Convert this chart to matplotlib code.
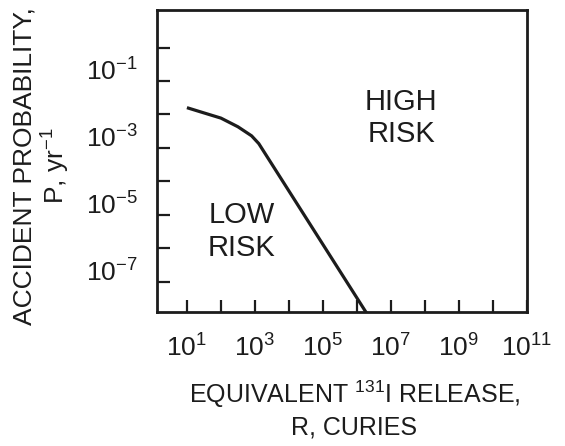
import math
import matplotlib
matplotlib.use("Agg")
import matplotlib.pyplot as plt
from matplotlib.ticker import FixedLocator, NullLocator, FuncFormatter

# boundary between low- and high-risk regions
release_ci = [10, 25, 100, 316, 800, 1.3e3, 2e6]
prob_per_yr = [1.6e-2, 1.2e-2, 7.8e-3, 4.3e-3, 2.3e-3, 1.35e-3, 1.1e-8]

x_ticks = [10.0 ** k for k in range(1, 12)]
x_labeled = [1, 3, 5, 7, 9, 11]
y_ticks = [10.0 ** -k for k in range(0, 8)]
y_labeled = [-1, -3, -5, -7]

ink = "#1c1c1c"
plt.rcParams["font.family"] = ["Liberation Sans", "DejaVu Sans"]
plt.rcParams["font.stretch"] = "condensed"

fig = plt.figure(figsize=(5.65, 4.46), dpi=100)
ax = fig.add_axes([0.2779, 0.3004, 0.6549, 0.6771])

ax.plot(release_ci, prob_per_yr, color=ink, lw=2.3, solid_capstyle="butt")
ax.set_xscale("log")
ax.set_yscale("log")
ax.set_xlim(10 ** 0.12, 10 ** 11.005)
ax.set_ylim(10 ** -7.9, 10 ** 1.12)

ax.xaxis.set_major_locator(FixedLocator(x_ticks))
ax.yaxis.set_major_locator(FixedLocator(y_ticks))
ax.xaxis.set_minor_locator(NullLocator())
ax.yaxis.set_minor_locator(NullLocator())


def pow_label(labeled):
    def fmt(v, pos):
        k = int(round(math.log10(v)))
        return r"$\mathregular{10^{%d}}$" % k if k in labeled else ""
    return fmt


ax.xaxis.set_major_formatter(FuncFormatter(pow_label(x_labeled)))
ax.yaxis.set_major_formatter(FuncFormatter(pow_label(y_labeled)))
ax.tick_params(direction="in", length=9, width=1.6, labelsize=19, colors=ink)
ax.tick_params(axis="x", pad=16)
ax.tick_params(axis="y", pad=14)
for lab in ax.get_yticklabels():
    lab.set_verticalalignment("baseline")
for s in ax.spines.values():
    s.set_linewidth(2.0)
    s.set_color(ink)

ax.text(10 ** 7.3, 10 ** -2.1, "HIGH\nRISK", ha="center", va="center",
        fontsize=21, linespacing=1.2, color=ink)
ax.text(10 ** 2.6, 10 ** -5.5, "LOW\nRISK", ha="center", va="center",
        fontsize=21, linespacing=1.2, color=ink)

fig.text(0.627, 0.083, "EQUIVALENT $\\mathregular{^{131}}$I RELEASE,\nR, CURIES",
         ha="center", va="center", fontsize=18, linespacing=1.3, color=ink)
fig.text(0.075, 0.628, "ACCIDENT PROBABILITY,\nP, yr$\\mathregular{^{-1}}$",
         ha="center", va="center", rotation=90, fontsize=19, linespacing=1.15,
         color=ink)

fig.savefig("out.png", dpi=100)
